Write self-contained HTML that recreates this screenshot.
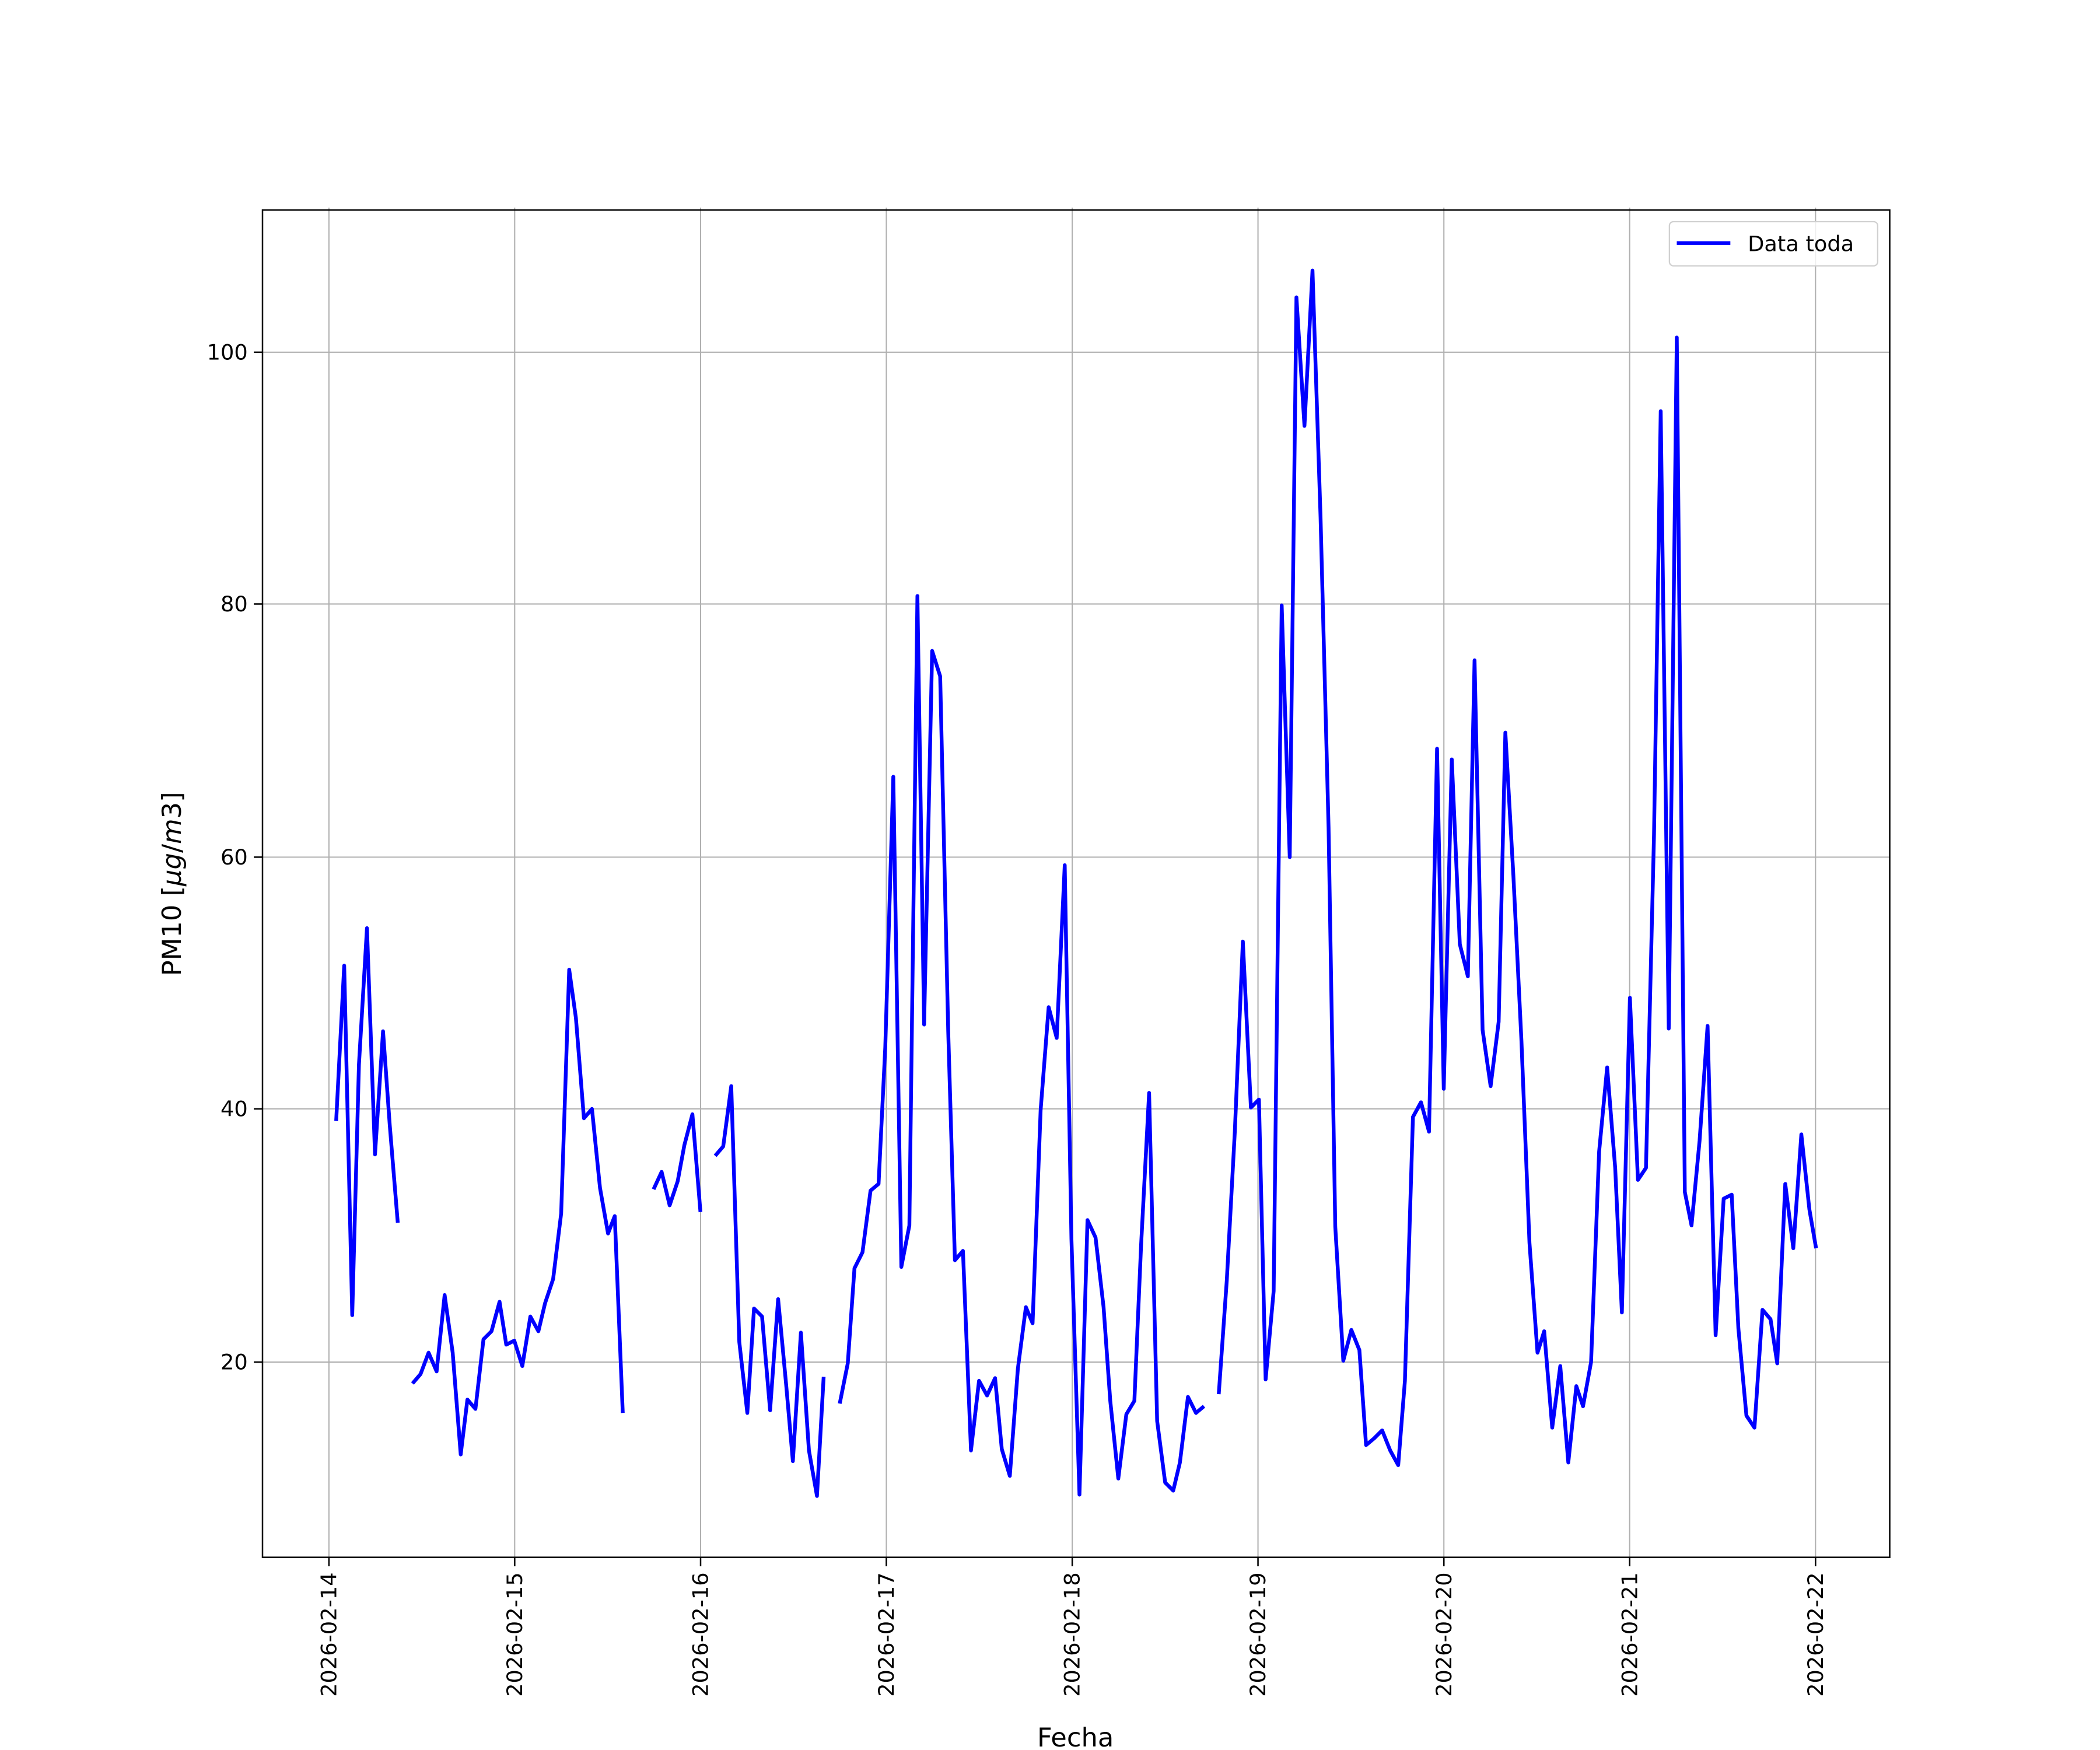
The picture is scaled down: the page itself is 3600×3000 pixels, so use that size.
<!DOCTYPE html>
<html><head><meta charset="utf-8"><style>html,body{margin:0;padding:0;background:#fff}svg{display:block}</style></head>
<body>
<svg width="3600" height="3000" viewBox="0 0 1568 1306.67" xmlns="http://www.w3.org/2000/svg" font-family="DejaVu Sans, Liberation Sans, sans-serif">
<rect width="1568" height="1306.67" fill="#fff"/>
<g stroke="#b0b0b0" stroke-width="0.9">
<line x1="245.6" y1="155" x2="245.6" y2="1163"/>
<line x1="384.3" y1="155" x2="384.3" y2="1163"/>
<line x1="523.1" y1="155" x2="523.1" y2="1163"/>
<line x1="661.8" y1="155" x2="661.8" y2="1163"/>
<line x1="800.6" y1="155" x2="800.6" y2="1163"/>
<line x1="939.3" y1="155" x2="939.3" y2="1163"/>
<line x1="1078.1" y1="155" x2="1078.1" y2="1163"/>
<line x1="1216.8" y1="155" x2="1216.8" y2="1163"/>
<line x1="1355.6" y1="155" x2="1355.6" y2="1163"/>
<line x1="196" y1="1017" x2="1411" y2="1017"/>
<line x1="196" y1="828" x2="1411" y2="828"/>
<line x1="196" y1="640" x2="1411" y2="640"/>
<line x1="196" y1="451" x2="1411" y2="451"/>
<line x1="196" y1="263" x2="1411" y2="263"/>
</g>
<g fill="none" stroke="#0000ff" stroke-width="2.8" stroke-linejoin="round">
<polyline points="251,837 257,721 263,982 268,795 274,693 280,862 286,770 291,840 297,913"/>
<polyline points="308,1033 314,1026 320,1010 326,1024 332,967 338,1010 344,1086 349,1045 355,1052 361,1000 367,994 373,972 378,1004 384,1001 390,1020 396,983 402,994 407,973 413,955 419,906 425,724 430,760 436,835 442,828 448,887 454,921 459,908 465,1055"/>
<polyline points="488,888 494,875 500,900 506,882 511,855 517,832 523,905"/>
<polyline points="534,863 540,856 546,811 552,1002 558,1055 563,977 569,983 575,1053 581,970 587,1034 592,1091 598,995 604,1083 610,1117 615,1028"/>
<polyline points="627,1048 633,1018 638,947 644,935 650,889 656,884 661,782 667,580 673,946 679,915 685,445 690,765 696,486 702,505 708,770 713,941 719,934 725,1083 731,1031 737,1042 743,1029 748,1082 754,1102 760,1022 766,976 771,988 777,829 783,752 789,775 795,646 800,925 806,1116 812,911 818,924 824,976 829,1046 835,1104 841,1056 847,1046 852,930 858,816 864,1061 870,1107 876,1113 881,1092 887,1043 893,1055 899,1050"/>
<polyline points="910,1041 916,956 922,845 928,703 934,827 940,821 945,1030 951,964 957,452 963,640 968,222 974,318 980,202 986,386 992,618 997,916 1003,1016 1009,993 1015,1008 1020,1079 1026,1074 1032,1068 1038,1083 1044,1094 1049,1031 1055,834 1061,823 1067,845 1073,559 1078,813 1084,567 1090,705 1096,729 1101,493 1107,769 1113,811 1119,763 1124,547 1130,654 1136,777 1142,928 1148,1010 1153,994 1159,1066 1165,1020 1171,1092 1177,1035 1182,1050 1188,1017 1194,860 1200,797 1206,872 1211,980 1217,745 1223,881 1229,872 1235,623 1240,307 1246,768 1252,252 1258,890 1263,915 1269,852 1275,766 1281,997 1287,895 1293,892 1298,992 1304,1057 1310,1066 1316,978 1322,985 1327,1018 1333,884 1339,932 1345,847 1351,903 1356,932"/>
</g>
<rect x="196" y="156.8" width="1215" height="1006" fill="none" stroke="#000" stroke-width="1.1"/>
<g stroke="#000" stroke-width="1.1">
<line x1="245.6" y1="1163" x2="245.6" y2="1169.5"/><line x1="384.3" y1="1163" x2="384.3" y2="1169.5"/><line x1="523.1" y1="1163" x2="523.1" y2="1169.5"/><line x1="661.8" y1="1163" x2="661.8" y2="1169.5"/><line x1="800.6" y1="1163" x2="800.6" y2="1169.5"/><line x1="939.3" y1="1163" x2="939.3" y2="1169.5"/><line x1="1078.1" y1="1163" x2="1078.1" y2="1169.5"/><line x1="1216.8" y1="1163" x2="1216.8" y2="1169.5"/><line x1="1355.6" y1="1163" x2="1355.6" y2="1169.5"/>
<line x1="189.5" y1="1017" x2="196" y2="1017"/><line x1="189.5" y1="828" x2="196" y2="828"/><line x1="189.5" y1="640" x2="196" y2="640"/><line x1="189.5" y1="451" x2="196" y2="451"/><line x1="189.5" y1="263" x2="196" y2="263"/>
</g>
<g font-size="16" fill="#000" text-anchor="end">
<text x="185" y="1022.5">20</text><text x="185" y="833.5">40</text><text x="185" y="645.5">60</text><text x="185" y="456.5">80</text><text x="185" y="268.5">100</text>
</g>
<g font-size="16" fill="#000" text-anchor="end">
<text transform="translate(251,1174) rotate(-90)">2026-02-14</text>
<text transform="translate(389.8,1174) rotate(-90)">2026-02-15</text>
<text transform="translate(528.6,1174) rotate(-90)">2026-02-16</text>
<text transform="translate(667.3,1174) rotate(-90)">2026-02-17</text>
<text transform="translate(806.1,1174) rotate(-90)">2026-02-18</text>
<text transform="translate(944.8,1174) rotate(-90)">2026-02-19</text>
<text transform="translate(1083.6,1174) rotate(-90)">2026-02-20</text>
<text transform="translate(1222.3,1174) rotate(-90)">2026-02-21</text>
<text transform="translate(1361.1,1174) rotate(-90)">2026-02-22</text>
</g>
<text x="803" y="1304" font-size="19.5" text-anchor="middle">Fecha</text>
<text transform="translate(135,660) rotate(-90)" font-size="19.5" text-anchor="middle">PM10 [<tspan font-style="italic">μg</tspan>/<tspan font-style="italic">m</tspan>3]</text>
<rect x="1246.5" y="165.5" width="155.5" height="33" rx="3" fill="#fff" fill-opacity="0.8" stroke="#d0d0d0" stroke-width="1"/>
<line x1="1252" y1="181.5" x2="1292" y2="181.5" stroke="#0000ff" stroke-width="2.8"/>
<text x="1305" y="187.5" font-size="16">Data toda</text>
</svg>
</body></html>
